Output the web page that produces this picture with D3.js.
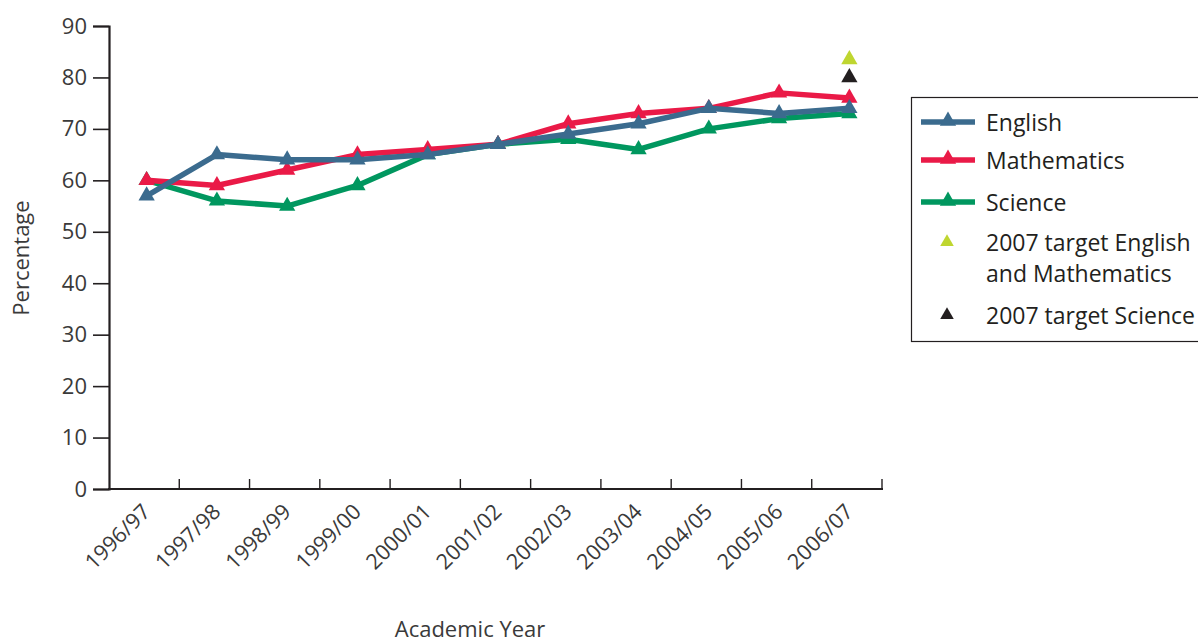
<!DOCTYPE html>
<html>
<head>
<meta charset="utf-8">
<script src="https://cdn.jsdelivr.net/npm/d3@7"></script>
<style>
  html, body { margin: 0; padding: 0; background: #ffffff; }
  svg { display: block; font-family: "Open Sans", "Noto Sans", sans-serif; }
</style>
</head>
<body>
<svg id="chart" width="1198" height="643"></svg>
<script>
const years = ["1996/97","1997/98","1998/99","1999/00","2000/01","2001/02","2002/03","2003/04","2004/05","2005/06","2006/07"];
const english = [57, 65, 64, 64, 65, 67, 69, 71, 74, 73, 74];
const mathematics = [60, 59, 62, 65, 66, 67, 71, 73, 74, 77, 76];
const science = [60, 56, 55, 59, 65, 67, 68, 66, 70, 72, 73];
const targetYear = "2006/07";
const targetEnglishMaths = 83.5;
const targetScience = 80;
const yTicks = [0, 10, 20, 30, 40, 50, 60, 70, 80, 90];

const colors = { english: "#3b6b8e", maths: "#ea1a47", science: "#00975f", targetEM: "#bfd630", targetSci: "#231f20" };
const ink = "#231f20";
const textCol = "#3a3a3a";

const svg = d3.select("#chart");
const x = d3.scaleBand().domain(years).range([109, 882]);
const y = d3.scaleLinear().domain([0, 90]).range([489, 26]);
const px = d => x(d) + x.bandwidth() / 2 + 2.5;

// y axis
const yAxis = svg.append("g").attr("transform", "translate(109,0)")
  .call(d3.axisLeft(y).tickValues(yTicks).tickSize(16).tickPadding(6));
yAxis.select(".domain").attr("stroke", ink).attr("stroke-width", 2.2);
yAxis.selectAll(".tick line").attr("stroke", ink).attr("stroke-width", 1.6);
yAxis.selectAll(".tick text").attr("fill", textCol).attr("font-size", 22).attr("font-family", "Open Sans, sans-serif");

// x axis (ticks pointing up into plot, at band boundaries)
const xg = svg.append("g");
xg.append("line").attr("x1", 108).attr("x2", x.range()[1] + 1).attr("y1", y(0)).attr("y2", y(0))
  .attr("stroke", ink).attr("stroke-width", 2.2);
xg.selectAll("line.xt").data(years).enter().append("line").attr("class", "xt")
  .attr("x1", d => x(d) + x.bandwidth()).attr("x2", d => x(d) + x.bandwidth())
  .attr("y1", y(0)).attr("y2", y(0) - 10).attr("stroke", ink).attr("stroke-width", 1.4);
xg.selectAll("text").data(years).enter().append("text")
  .attr("transform", d => `translate(${px(d) + 5},${y(0) + 24}) rotate(-45)`)
  .attr("text-anchor", "end").attr("fill", textCol).attr("font-size", 21.5)
  .text(d => d);

// axis titles
svg.append("text").attr("transform", "translate(29,258) rotate(-90)").attr("text-anchor", "middle")
  .attr("fill", textCol).attr("font-size", 22).text("Percentage");
svg.append("text").attr("x", 470).attr("y", 637).attr("text-anchor", "middle")
  .attr("fill", textCol).attr("font-size", 22).text("Academic Year");

// series
const tri = d3.symbol().type(d3.symbolTriangle).size(115);
const series = [
  { key: "science", values: science, color: colors.science },
  { key: "maths", values: mathematics, color: colors.maths },
  { key: "english", values: english, color: colors.english }
];
const line = d3.line().x(d => px(d.year)).y(d => y(d.v));
series.forEach(s => {
  const pts = years.map((yr, i) => ({ year: yr, v: s.values[i] }));
  const g = svg.append("g");
  g.append("path").datum(pts).attr("d", line).attr("fill", "none")
    .attr("stroke", s.color).attr("stroke-width", 5.5).attr("stroke-linejoin", "round");
  g.selectAll("path.m").data(pts).enter().append("path").attr("class", "m")
    .attr("d", tri).attr("fill", s.color)
    .attr("transform", d => `translate(${px(d.year)},${y(d.v)})`);
});
// targets
svg.append("path").attr("d", tri).attr("fill", colors.targetEM)
  .attr("transform", `translate(${px(targetYear)},${y(targetEnglishMaths)})`);
svg.append("path").attr("d", tri).attr("fill", colors.targetSci)
  .attr("transform", `translate(${px(targetYear)},${y(targetScience)})`);

// legend
const lg = svg.append("g");
lg.append("rect").attr("x", 911.5).attr("y", 97.5).attr("width", 300).attr("height", 244)
  .attr("fill", "none").attr("stroke", ink).attr("stroke-width", 1.2);
const legendItems = [
  { label: ["English"], color: colors.english, line: true, cy: 122 },
  { label: ["Mathematics"], color: colors.maths, line: true, cy: 160 },
  { label: ["Science"], color: colors.science, line: true, cy: 202 },
  { label: ["2007 target English", "and Mathematics"], color: colors.targetEM, line: false, cy: 242 },
  { label: ["2007 target Science"], color: colors.targetSci, line: false, cy: 315 }
];
legendItems.forEach(it => {
  if (it.line) {
    lg.append("line").attr("x1", 921).attr("x2", 975).attr("y1", it.cy).attr("y2", it.cy)
      .attr("stroke", it.color).attr("stroke-width", 5.5);
    lg.append("path").attr("d", tri).attr("fill", it.color).attr("transform", `translate(948,${it.cy - 1})`);
  } else {
    lg.append("path").attr("d", d3.symbol().type(d3.symbolTriangle).size(80)).attr("fill", it.color)
      .attr("transform", `translate(947,${it.cy})`);
  }
  it.label.forEach((t, i) => {
    lg.append("text").attr("x", 986).attr("y", it.cy + 9 + i * 31).attr("fill", ink)
      .attr("font-size", 23).text(t);
  });
});
</script>
</body>
</html>
